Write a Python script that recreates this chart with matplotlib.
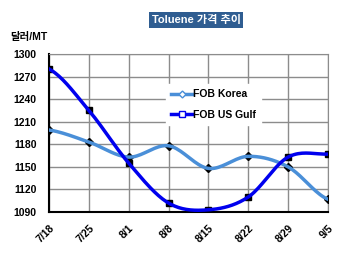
import numpy as np
import matplotlib
matplotlib.use("Agg")
import matplotlib.pyplot as plt

plt.rcParams['font.family'] = ['Liberation Sans', 'Noto Sans CJK KR', 'DejaVu Sans']
plt.rcParams['font.weight'] = 'bold'

dates = ['7/18', '7/25', '8/1', '8/8', '8/15', '8/22', '8/29', '9/5']
korea = [1199, 1183, 1163, 1178, 1148, 1164, 1150, 1107]
us_gulf = [1280, 1225, 1155, 1102, 1093, 1110, 1163, 1167]


def smooth(ys, n=20):
    # catmull-rom curve through the points, like excel's smoothed line
    ys = np.asarray(ys, float)
    p = np.concatenate([[ys[0]], ys, [ys[-1]]])
    xs_out, ys_out = [], []
    for i in range(len(ys) - 1):
        t = np.linspace(0, 1, n, endpoint=False)
        p0, p1, p2, p3 = p[i], p[i + 1], p[i + 2], p[i + 3]
        y = 0.5 * (2 * p1 + (-p0 + p2) * t + (2 * p0 - 5 * p1 + 4 * p2 - p3) * t ** 2
                   + (-p0 + 3 * p1 - 3 * p2 + p3) * t ** 3)
        xs_out.append(i + t)
        ys_out.append(y)
    xs_out.append([len(ys) - 1])
    ys_out.append([ys[-1]])
    return np.concatenate(xs_out), np.concatenate(ys_out)


fig = plt.figure(figsize=(3.5, 2.58), dpi=100)
ax = fig.add_axes([0.14, 0.178, 0.797, 0.613])

x = np.arange(len(dates))
ax.plot(x, korea, 'D', color='black', ms=4, zorder=3)
ax.plot(x, us_gulf, 's', color='black', ms=4.5, zorder=3)

sx, sy = smooth(korea)
ax.plot(sx, sy, color='#4a8fd8', lw=2.5, zorder=4)
sx, sy = smooth(us_gulf)
ax.plot(sx, sy, color='#0000ee', lw=2.5, zorder=4)

# legend proxies
ax.plot([], [], color='#4a8fd8', lw=2.5, marker='D', ms=3.5, mfc='white', label='FOB Korea')
ax.plot([], [], color='#0000ee', lw=2.5, marker='s', ms=4.5, mfc='white', label='FOB US Gulf')
leg = ax.legend(loc='center', bbox_to_anchor=(0.59, 0.68), frameon=True, fancybox=False,
                edgecolor='white', framealpha=1, fontsize=7.5, handlelength=2.0,
                handletextpad=0.1, borderpad=0.5, labelspacing=1.0)

ax.set_xlim(0, len(dates) - 1)
ax.set_ylim(1090, 1300)
ax.set_yticks(np.arange(1090, 1301, 30))
ax.set_xticks(x)
ax.set_xticklabels(dates, rotation=45, ha='right', rotation_mode='anchor')
ax.tick_params(labelsize=7.5, length=0)
ax.tick_params(axis='y', pad=9)
ax.tick_params(axis='x', pad=8)
ax.grid(True, color='#8c8c8c', lw=1)
ax.set_axisbelow(True)
for s in ['top', 'right']:
    ax.spines[s].set_color('#8c8c8c')
for s in ['left', 'bottom']:
    ax.spines[s].set_color('black')
    ax.spines[s].set_linewidth(1.5)

fig.text(0.03, 0.857, '달러/MT', fontsize=7.5, fontweight='bold', va='center')
fig.text(0.56, 0.922, 'Toluene 가격 추이', fontsize=8, fontweight='bold', color='white',
         ha='center', va='center',
         bbox=dict(boxstyle='square,pad=0.25', fc='#2f5d91', ec='none'))

fig.savefig('out.png', dpi=100)
